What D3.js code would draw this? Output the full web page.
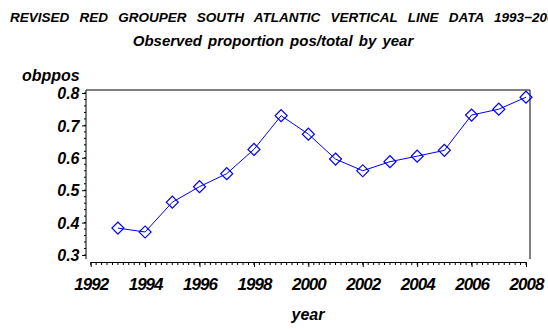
<!DOCTYPE html>
<html>
<head>
<meta charset="utf-8">
<script src="https://cdn.jsdelivr.net/npm/d3@7"></script>
<style>
  html, body { margin: 0; padding: 0; background: #fff; }
  svg { display: block; }
  text { font-family: "Liberation Sans", Arial, Helvetica, sans-serif; font-weight: bold; font-style: italic; fill: #000; }
</style>
</head>
<body>
<svg id="chart" width="548" height="329"></svg>
<script>
// Observed proportion of positive sets by year
const years = [1993, 1994, 1995, 1996, 1997, 1998, 1999, 2000, 2001, 2002, 2003, 2004, 2005, 2006, 2007, 2008];
const obppos = [0.383, 0.371, 0.463, 0.511, 0.551, 0.626, 0.730, 0.673, 0.596, 0.560, 0.588, 0.605, 0.623, 0.732, 0.750, 0.787];
const xTicks = [1992, 1994, 1996, 1998, 2000, 2002, 2004, 2006, 2008];
const yTicks = [0.3, 0.4, 0.5, 0.6, 0.7, 0.8];

const titleText = "REVISED RED GROUPER SOUTH ATLANTIC VERTICAL LINE DATA 1993\u22122008";
const subtitleText = "Observed proportion pos/total by year";

const svg = d3.select("#chart");

const frame = { left: 86, right: 530, top: 90, bottom: 259 };
const xAxisY = 262;

const x = d3.scaleLinear().domain([1992, 2008]).range([90.7, 526]);
const y = d3.scaleLinear().domain([0.3, 0.8]).range([255, 93]);

// titles
svg.append("text")
  .attr("x", 10).attr("y", 22)
  .style("font-size", "13.5px")
  .style("word-spacing", "6.5px")
  .text(titleText);

svg.append("text")
  .attr("x", 273).attr("y", 46)
  .attr("text-anchor", "middle")
  .style("font-size", "15px")
  .style("word-spacing", "2px")
  .text(subtitleText);

// frame: top, left and right edges
svg.append("path")
  .attr("d", `M${frame.left},${frame.bottom}V${frame.top}H${frame.right}V${frame.bottom}`)
  .attr("fill", "none").attr("stroke", "#000").attr("stroke-width", 1);

// y axis minor ticks
const yMinor = d3.range(0.3, 0.8001, 0.02).map(v => +v.toFixed(2));
svg.append("g").selectAll("line").data(yMinor).join("line")
  .attr("x1", frame.left - 2).attr("x2", frame.left)
  .attr("y1", d => y(d)).attr("y2", d => y(d))
  .attr("stroke", "#000").attr("stroke-width", 1);

// y axis
const yAxis = d3.axisLeft(y).tickValues(yTicks).tickFormat(d3.format(".1f")).tickSize(4).tickPadding(2.5);
const gy = svg.append("g").attr("transform", `translate(${frame.left},0)`).call(yAxis);
gy.select(".domain").remove();
gy.selectAll("text").style("font-size", "16px").attr("dy", "0.36em")
  .style("font-family", "'Liberation Sans', Arial, sans-serif");

// x axis minor ticks
const xMinor = d3.range(1992, 2008.001, 0.2).map(v => +v.toFixed(1));
svg.append("g").selectAll("line").data(xMinor).join("line")
  .attr("x1", d => x(d)).attr("x2", d => x(d))
  .attr("y1", xAxisY).attr("y2", xAxisY + 3)
  .attr("stroke", "#000").attr("stroke-width", 1);

// x axis
const xAxis = d3.axisBottom(x).tickValues(xTicks).tickFormat(d3.format("d")).tickSize(5).tickPadding(11).tickSizeOuter(0);
const gx = svg.append("g").attr("transform", `translate(0,${xAxisY})`).call(xAxis);
gx.selectAll("text").style("font-size", "17px").style("letter-spacing", "-1px")
  .style("font-family", "'Liberation Sans', Arial, sans-serif");

// axis labels
svg.append("text")
  .attr("x", 22).attr("y", 81)
  .style("font-size", "16px")
  .text("obppos");

svg.append("text")
  .attr("x", (frame.left + frame.right) / 2).attr("y", 320)
  .attr("text-anchor", "middle")
  .style("font-size", "16px")
  .text("year");

// series line
const line = d3.line().x((d, i) => x(years[i])).y(d => y(d));
svg.append("path")
  .datum(obppos)
  .attr("d", line)
  .attr("fill", "none")
  .attr("stroke", "#0000ff")
  .attr("stroke-width", 1);

// diamond markers
const diamond = d3.symbol().type(d3.symbolSquare).size(72);
svg.append("g").selectAll("path").data(obppos).join("path")
  .attr("d", diamond)
  .attr("transform", (d, i) => `translate(${x(years[i])},${y(d)}) rotate(45)`)
  .attr("fill", "none")
  .attr("stroke", "#0000ff")
  .attr("stroke-width", 1.2);
</script>
</body>
</html>
